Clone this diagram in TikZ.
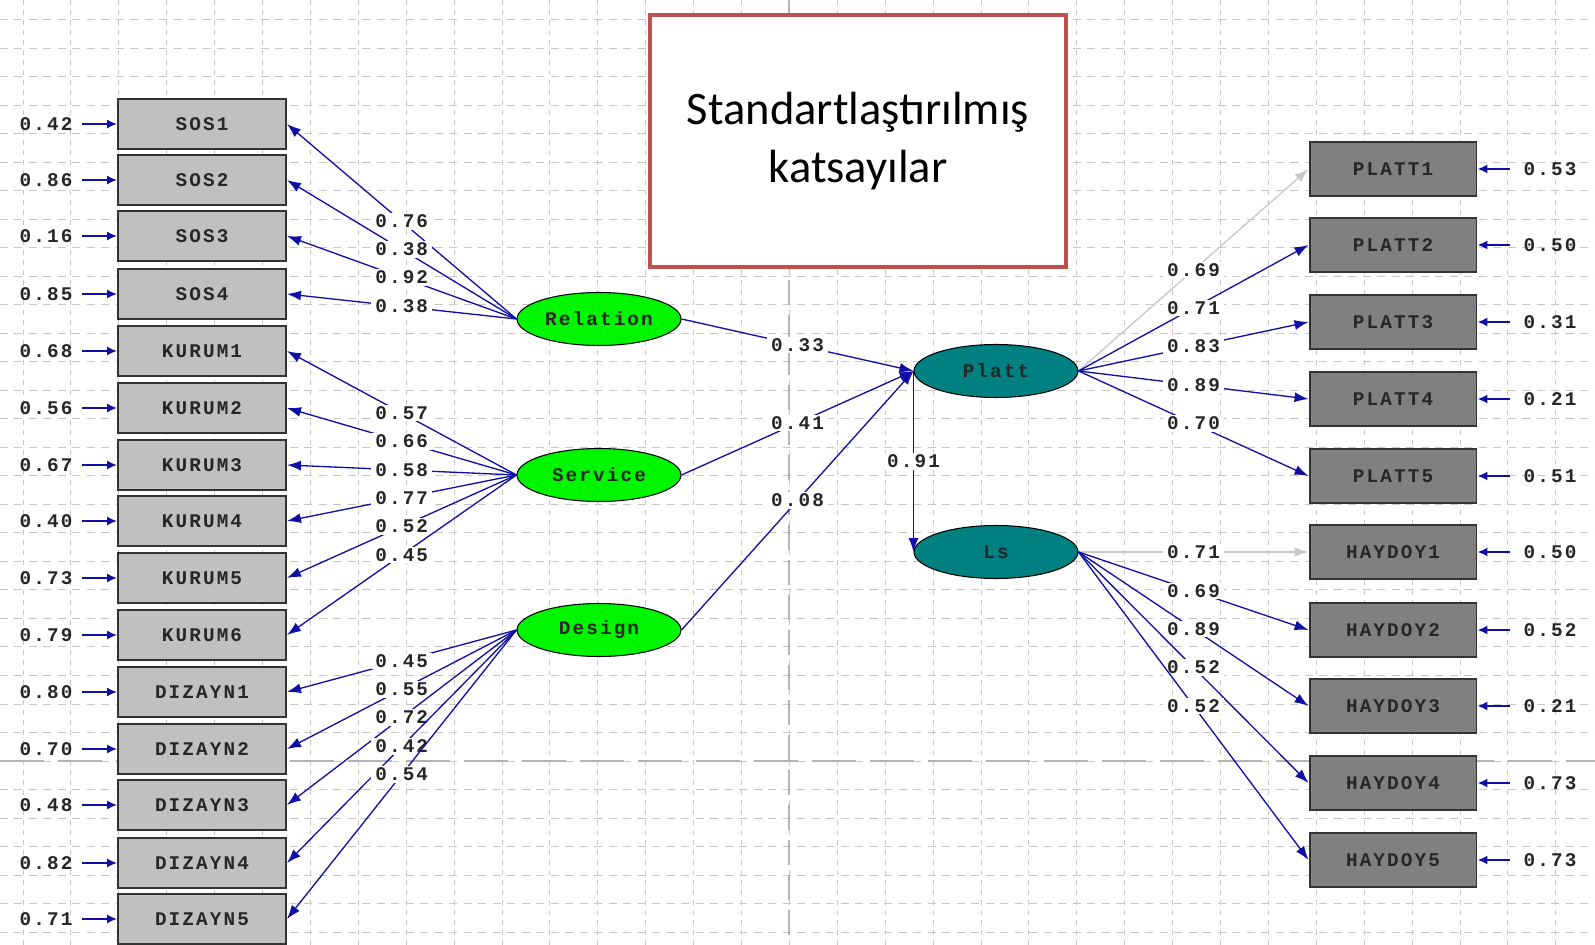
\documentclass[tikz,border=0pt]{standalone}
\usepackage{fontspec}
\usepackage{tikz}
\usetikzlibrary{arrows.meta,shapes.geometric}
\newfontfamily\lisfont[LetterSpace=11]{Liberation Mono}
\newfontfamily\titlefont{Carlito}

\definecolor{pathblue}{RGB}{15,15,165}
\definecolor{fixgray}{RGB}{200,200,200}
\definecolor{gridgray}{RGB}{200,200,200}
\definecolor{pagegray}{RGB}{180,180,180}
\definecolor{exogreen}{RGB}{0,245,0}
\definecolor{endoteal}{RGB}{0,128,128}
\definecolor{obslight}{RGB}{192,192,192}
\definecolor{obsdark}{RGB}{128,128,128}
\definecolor{framered}{RGB}{192,80,77}

\tikzset{
  lisrel/.style={font=\lisfont\bfseries\fontsize{11}{11}\selectfont, text=black!85},
  obsleft/.style={lisrel, draw=black!80, line width=1.1pt, fill=obslight,
    minimum width=3.36cm, minimum height=1.0cm, inner sep=0pt},
  obsright/.style={obsleft, fill=obsdark, minimum width=3.34cm, minimum height=1.08cm},
  exo/.style={lisrel, ellipse, draw=black, line width=0.6pt, fill=exogreen,
    minimum width=3.28cm, minimum height=1.06cm, inner sep=0pt},
  endo/.style={exo, fill=endoteal},
  load/.style={draw=pathblue, line width=0.75pt, -{Latex[length=0.28cm,width=0.2cm]}},
  fixed/.style={load, draw=fixgray, -{Latex[length=0.28cm,width=0.2cm,fill=fixgray]}},
  errpath/.style={load, line width=1pt, -{Latex[length=0.2cm,width=0.18cm]}},
  coef/.style={lisrel, fill=white, inner xsep=0.08cm, inner ysep=0.03cm},
  errlab/.style={lisrel, inner sep=0.06cm}
}

\begin{document}
\begin{tikzpicture}[x=0.02cm, y=-0.02cm]

\useasboundingbox (0,0) rectangle (1595,945);
\fill[white] (0,0) rectangle (1595,945);

% background grid and page breaks
\foreach \i in {0,...,32}
    \draw[gridgray, line width=0.55pt, dash pattern=on 0.1cm off 0.1cm] ({23+47.9*\i},0) -- ({23+47.9*\i},945);
\foreach \j in {0,...,32}
    \draw[gridgray, line width=0.55pt, dash pattern=on 0.16cm off 0.13cm] (0,{19.5+28.52*\j}) -- (1595,{19.5+28.52*\j});
\draw[pagegray, line width=1.1pt, dash pattern=on 0.5cm off 0.2cm] (789,0) -- (789,945);
\draw[pagegray, line width=1.1pt, dash pattern=on 0.88cm off 0.28cm] (0,761) -- (1595,761);

\node[draw=framered, line width=2.3pt, fill=white, minimum width=8.32cm, minimum height=5.04cm,
      font=\titlefont\fontsize{26.5}{33}\selectfont, align=center] (title) at (858,141)
      {Standartla\c{s}t\i r\i lm\i\c{s}\\katsay\i lar};

% latent variables
\node[exo] (Relation) at (599,319) {Relation};
\node[exo] (Service) at (599,475) {Service};
\node[exo] (Design) at (599,630) {Design};
\node[endo] (Platt) at (996,371) {Platt};
\node[endo] (Ls) at (996,552) {Ls};

% indicators on the left
\foreach \name/\y/\err/\lat/\val in {
    SOS1/124/0.42/Relation/0.76, SOS2/180/0.86/Relation/0.38,
    SOS3/236/0.16/Relation/0.92, SOS4/294/0.85/Relation/0.38,
    KURUM1/351/0.68/Service/0.57, KURUM2/408/0.56/Service/0.66,
    KURUM3/465/0.67/Service/0.58, KURUM4/521/0.40/Service/0.77,
    KURUM5/578/0.73/Service/0.52, KURUM6/635/0.79/Service/0.45,
    DIZAYN1/692/0.80/Design/0.45, DIZAYN2/749/0.70/Design/0.55,
    DIZAYN3/805/0.48/Design/0.72, DIZAYN4/863/0.82/Design/0.42,
    DIZAYN5/919/0.71/Design/0.54}
{
    \node[obsleft] (\name) at (202,\y) {\name};
    \node[errlab] (e\name) at (46,\y) {\err};
    \draw[errpath, shorten <=0.12cm] (e\name) -- (\name);
    \draw[load] (\lat.west) -- (\name.east) node[coef, midway] {\val};
}

% indicators on the right
\foreach \name/\y/\err/\lat/\val/\sty in {
    PLATT1/169/0.53/Platt/0.69/fixed, PLATT2/245/0.50/Platt/0.71/load,
    PLATT3/322/0.31/Platt/0.83/load, PLATT4/399/0.21/Platt/0.89/load,
    PLATT5/476/0.51/Platt/0.70/load,
    HAYDOY1/552/0.50/Ls/0.71/fixed, HAYDOY2/630/0.52/Ls/0.69/load,
    HAYDOY3/706/0.21/Ls/0.89/load, HAYDOY4/783/0.73/Ls/0.52/load,
    HAYDOY5/860/0.73/Ls/0.52/load}
{
    \node[obsright] (\name) at (1393,\y) {\name};
    \node[errlab] (e\name) at (1550,\y) {\err};
    \draw[errpath, shorten <=0.2cm] (e\name) -- (\name);
    \draw[\sty] (\lat.east) -- (\name.west) node[coef, midway] {\val};
}

% structural paths
\draw[load] (Relation.east) -- (Platt.west) node[coef, midway] {0.33};
\draw[load] (Service.east) -- (Platt.west) node[coef, midway] {0.41};
\draw[load] (Design.east) -- (Platt.west) node[coef, midway] {0.08};
\draw[load] (Platt.west) -- (Ls.west) node[coef, midway] {0.91};

\end{tikzpicture}
\end{document}
